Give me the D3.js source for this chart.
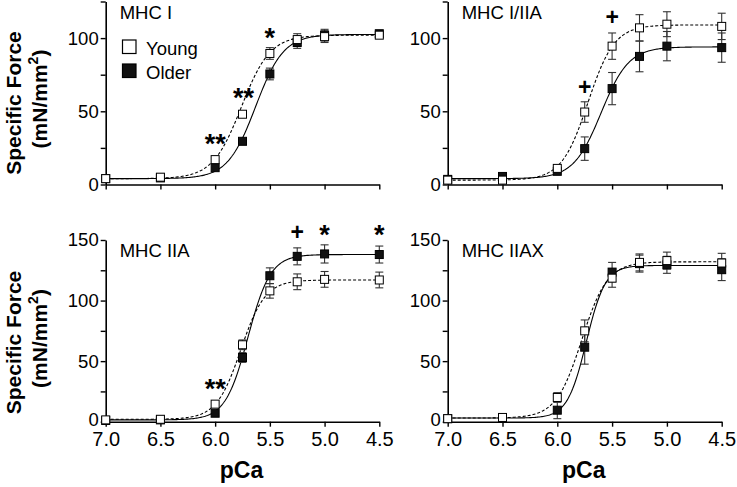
<!DOCTYPE html>
<html><head><meta charset="utf-8">
<script src="https://cdn.jsdelivr.net/npm/d3@7"></script>
<style>
body{margin:0;background:#fff;}
svg{display:block;font-family:"Liberation Sans",Arial,sans-serif;}
</style></head>
<body><svg id="c" width="737" height="487"></svg>
<script>
// ---------- DATA ----------
const pCa = [7.0, 6.5, 6.0, 5.75, 5.5, 5.25, 5.0, 4.5];
const xTicks = [7.0, 6.5, 6.0, 5.5, 5.0, 4.5];
const panelTitles = ["MHC I", "MHC I/IIA", "MHC IIA", "MHC IIAX"];
const yTicksTop = [0, 25, 50, 75, 100, 125];
const yTicksBottom = [0, 25, 50, 75, 100, 125, 150];
const seriesNames = ["Young", "Older"];

// MHC I
const youngI      = [4, 5, 17, 48, 89.5, 99, 101, 102];
const youngIErr   = [1, 1, 2, 3, 4, 4, 4, 3];
const olderI      = [4, 4.5, 11.5, 29.5, 75.5, 97, 102, 103];
const olderIErr   = [1, 1, 1.5, 3, 4, 4, 4, 3];
// MHC I/IIA
const youngIIIA    = [3, 3, 11, 49.5, 94.5, 107, 109.5, 108];
const youngIIIAErr = [1, 1, 2, 7, 9, 9, 8.5, 9];
const olderIIIA    = [3.5, 5.5, 9, 24.5, 65.5, 87.5, 94.5, 93.5];
const olderIIIAErr = [1, 1, 1, 8, 11, 10.5, 10, 10];
// MHC IIA
const youngIIA    = [1.5, 2, 14.5, 63.5, 108, 115.5, 117.5, 117];
const youngIIAErr = [1, 1, 2, 4, 6, 6.5, 6.5, 6.5];
const olderIIA    = [1, 1.5, 7, 53, 120.5, 136.5, 138.5, 138];
const olderIIAErr = [1, 1, 1.5, 4, 6.5, 7, 7.5, 7];
// MHC IIAX
const youngIIAX    = [2.5, 3.5, 20, 75, 118.5, 131.5, 133, 131];
const youngIIAXErr = [1, 1, 4, 9, 7.5, 7, 7, 8];
const olderIIAX    = [2.5, 3, 9.5, 61.5, 123.5, 130.5, 129.5, 125.5];
const olderIIAXErr = [1, 1, 7, 14, 8, 7, 7, 9];

// Hill fit parameters [Fmin, Fmax, pCa50, nH]
const fitYoung = [[4, 102, 5.76, 3.3], [3, 109, 5.72, 3.6], [2, 117, 5.765, 3.9], [3, 132, 5.777, 3.7]];
const fitOlder = [[4, 102.5, 5.63, 3.4], [4, 94, 5.60, 3.45], [1.5, 138, 5.70, 4.2], [3, 129, 5.735, 5.0]];

// significance marks: [panel, pCa, force level, symbol]
const marks = [
  [0, 6.0, 31, "**"], [0, 5.74, 62, "**"], [0, 5.5, 103, "*"],
  [1, 5.75, 66.5, "+"], [1, 5.5, 114, "+"],
  [2, 6.0, 31, "**"], [2, 5.25, 156, "+"], [2, 5.0, 158, "*"], [2, 4.5, 158, "*"]
];

const youngData = [youngI, youngIIIA, youngIIA, youngIIAX];
const youngErr  = [youngIErr, youngIIIAErr, youngIIAErr, youngIIAXErr];
const olderData = [olderI, olderIIIA, olderIIA, olderIIAX];
const olderErr  = [olderIErr, olderIIIAErr, olderIIAErr, olderIIAXErr];

// ---------- LAYOUT ----------
const svg = d3.select("#c");
const colX = [[105.7, 379.3], [447.7, 721.7]];
const rowY = [[184.5, 1.5], [421.7, 240]];
const rowMax = [125, 150];
const font = '"Liberation Sans",Arial,sans-serif';

panelTitles.forEach((title, i) => {
  const col = i % 2, row = Math.floor(i / 2);
  const x = d3.scaleLinear().domain([7.0, 4.5]).range(colX[col]);
  const y = d3.scaleLinear().domain([0, rowMax[row]]).range(rowY[row]);
  const g = svg.append("g");

  // axes
  const yAx = d3.axisLeft(y).tickValues(row === 0 ? yTicksTop : yTicksBottom)
    .tickFormat(d => d % 50 === 0 ? d : "").tickSize(5).tickSizeOuter(0).tickPadding(2);
  const ya = g.append("g").attr("transform", `translate(${colX[col][0]},0)`).call(yAx);
  ya.selectAll("text").attr("font-size", 18.5).attr("font-family", font).attr("fill", "#000");
  if (row === 1) ya.selectAll("text").filter(d => d === 0).attr("dy", "0.2em");
  const xAx = d3.axisBottom(x).tickValues(xTicks)
    .tickFormat(row === 1 ? d3.format(".1f") : () => "").tickSize(5).tickSizeOuter(0).tickPadding(5);
  const xa = g.append("g").attr("transform", `translate(0,${rowY[row][0]})`).call(xAx);
  xa.selectAll("text").attr("font-size", 20).attr("font-family", font).attr("fill", "#000");
  [ya, xa].forEach(a => { a.select(".domain").attr("stroke", "#000").attr("stroke-width", 1.6);
    a.selectAll(".tick line").attr("stroke", "#000").attr("stroke-width", 1.4); });

  // title
  g.append("text").attr("x", colX[col][0] + 14).attr("y", rowY[row][1] + (row === 0 ? 17 : 16.5))
    .attr("font-size", 18.5).attr("font-family", font).text(title);

  // fitted curves
  const grid = d3.range(7.0, 4.499, -0.01);
  const hill = p => pc => p[0] + (p[1] - p[0]) / (1 + Math.pow(10, p[3] * (pc - p[2])));
  const line = d3.line().x(d => x(d[0])).y(d => y(d[1]));
  const fO = hill(fitOlder[i]), fY = hill(fitYoung[i]);
  g.append("path").attr("d", line(grid.map(pc => [pc, fO(pc)])))
    .attr("fill", "none").attr("stroke", "#000").attr("stroke-width", 1.1);
  g.append("path").attr("d", line(grid.map(pc => [pc, fY(pc)])))
    .attr("fill", "none").attr("stroke", "#000").attr("stroke-width", 1.1).attr("stroke-dasharray", "3,2");

  // error bars
  const drawErr = (vals, errs) => {
    vals.forEach((v, k) => {
      const cx = x(pCa[k]), e = errs[k];
      if (y(v - e) - y(v + e) < 9) return;
      g.append("line").attr("x1", cx).attr("x2", cx).attr("y1", y(v - e)).attr("y2", y(v + e))
        .attr("stroke", "#333").attr("stroke-width", 1.1);
      [v - e, v + e].forEach(t => g.append("line").attr("x1", cx - 4).attr("x2", cx + 4)
        .attr("y1", y(t)).attr("y2", y(t)).attr("stroke", "#333").attr("stroke-width", 1.1));
    });
  };
  drawErr(olderData[i], olderErr[i]);
  drawErr(youngData[i], youngErr[i]);

  // markers
  const s = 8;
  g.selectAll(".old").data(olderData[i]).join("rect")
    .attr("x", (d, k) => x(pCa[k]) - s / 2).attr("y", d => y(d) - s / 2)
    .attr("width", s).attr("height", s).attr("fill", "#111").attr("stroke", "#000").attr("stroke-width", 1);
  g.selectAll(".yng").data(youngData[i]).join("rect")
    .attr("x", (d, k) => x(pCa[k]) - s / 2).attr("y", d => y(d) - s / 2)
    .attr("width", s).attr("height", s).attr("fill", "#fff").attr("stroke", "#000").attr("stroke-width", 1);

  // significance marks
  marks.filter(m => m[0] === i).forEach(m => {
    const plus = m[3] === "+";
    const fs = plus ? 23 : 27;
    g.append("text").attr("x", x(m[1])).attr("y", y(m[2]) + (plus ? 0.33 : 0.5) * fs)
      .attr("text-anchor", "middle").attr("font-weight", "bold").attr("font-size", fs)
      .attr("font-family", font).text(m[3]);
  });

  // y axis title (left column)
  if (col === 0) {
    const cy = row === 0 ? 103 : 342.5;
    svg.append("text").attr("transform", `translate(21,${cy}) rotate(-90)`)
      .attr("text-anchor", "middle").attr("font-weight", "bold").attr("font-size", 21)
      .attr("font-family", font).text("Specific Force");
    const t = svg.append("text").attr("transform", `translate(47,${cy - 4}) rotate(-90)`)
      .attr("text-anchor", "middle").attr("font-weight", "bold").attr("font-size", 21)
      .attr("font-family", font);
    t.append("tspan").text("(mN/mm");
    t.append("tspan").attr("font-size", 14).attr("dy", -9).text("2");
    t.append("tspan").attr("dy", 9).text(")");
  }
  // x axis title (bottom row)
  if (row === 1) {
    svg.append("text").attr("x", (colX[col][0] + colX[col][1]) / 2 - 1).attr("y", 478)
      .attr("text-anchor", "middle").attr("font-weight", "bold").attr("font-size", 23)
      .attr("font-family", font).text("pCa");
  }
});

// legend
const leg = svg.append("g");
seriesNames.forEach((n, k) => {
  leg.append("rect").attr("x", 122.5).attr("y", 40 + k * 24).attr("width", 13.5).attr("height", 13.5)
    .attr("fill", k === 0 ? "#fff" : "#111").attr("stroke", "#000").attr("stroke-width", 1.2);
  leg.append("text").attr("x", 146).attr("y", 54.5 + k * 24).attr("font-size", 18.5)
    .attr("font-family", font).text(n);
});
</script></body></html>
